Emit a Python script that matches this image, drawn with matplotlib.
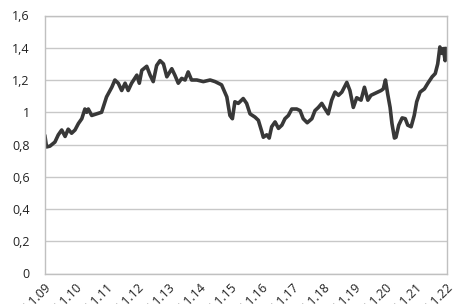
import matplotlib
matplotlib.use("Agg")
import matplotlib.pyplot as plt
from matplotlib.ticker import FuncFormatter

# decimal years and values
years = [2009.00, 2009.05, 2009.16, 2009.32, 2009.43, 2009.54, 2009.65, 2009.75, 2009.86, 2009.97,
         2010.08, 2010.19, 2010.29, 2010.35, 2010.40, 2010.51, 2010.67, 2010.83, 2010.99,
         2011.16, 2011.26, 2011.37, 2011.48, 2011.59, 2011.69, 2011.80, 2011.97,
         2012.05, 2012.13, 2012.29, 2012.40, 2012.50, 2012.61, 2012.72, 2012.83, 2012.94,
         2013.10, 2013.20, 2013.31, 2013.42, 2013.53, 2013.63, 2013.74, 2013.91,
         2014.12, 2014.34, 2014.50, 2014.71, 2014.88, 2014.98,
         2015.06, 2015.14, 2015.25, 2015.41, 2015.52, 2015.63, 2015.79, 2015.90,
         2016.01, 2016.06, 2016.17, 2016.25, 2016.33, 2016.44, 2016.55, 2016.66, 2016.76, 2016.87, 2016.98,
         2017.14, 2017.25, 2017.35, 2017.48, 2017.63, 2017.73, 2017.84, 2017.95,
         2018.06, 2018.16, 2018.27, 2018.38, 2018.49, 2018.60, 2018.76, 2018.86, 2018.97,
         2019.08, 2019.22, 2019.33, 2019.44, 2019.54, 2019.65, 2019.76, 2019.87, 2019.94,
         2020.01, 2020.08, 2020.16, 2020.22, 2020.30, 2020.35, 2020.44, 2020.55, 2020.65, 2020.73, 2020.84, 2020.94,
         2021.02, 2021.13, 2021.27, 2021.38, 2021.52, 2021.62, 2021.70, 2021.77, 2021.84, 2021.88, 2021.94, 2021.97]
values = [0.85, 0.785, 0.79, 0.815, 0.86, 0.89, 0.85, 0.895, 0.87, 0.89,
          0.93, 0.96, 1.02, 1.00, 1.02, 0.98, 0.99, 1.00, 1.095,
          1.155, 1.20, 1.18, 1.135, 1.18, 1.135, 1.18, 1.23,
          1.18, 1.26, 1.285, 1.23, 1.19, 1.29, 1.32, 1.30, 1.22,
          1.27, 1.23, 1.18, 1.21, 1.20, 1.25, 1.20, 1.20,
          1.19, 1.20, 1.19, 1.17, 1.095, 0.98,
          0.96, 1.065, 1.055, 1.085, 1.055, 0.99, 0.97, 0.95,
          0.88, 0.845, 0.86, 0.84, 0.91, 0.94, 0.90, 0.92, 0.96, 0.98, 1.02,
          1.02, 1.01, 0.96, 0.935, 0.96, 1.01, 1.03, 1.055,
          1.02, 0.99, 1.075, 1.125, 1.105, 1.125, 1.185, 1.135, 1.03,
          1.09, 1.075, 1.155, 1.075, 1.105, 1.115, 1.125, 1.135, 1.145,
          1.20, 1.115, 1.03, 0.93, 0.84, 0.845, 0.92, 0.965, 0.96, 0.92, 0.91, 0.98,
          1.065, 1.125, 1.145, 1.18, 1.22, 1.24, 1.30, 1.405, 1.365, 1.395, 1.32, 1.395]

tick_years = list(range(2009, 2023))
tick_labels = ["1.1.%02d" % (y % 100) for y in tick_years]
y_ticks = [0, 0.2, 0.4, 0.6, 0.8, 1.0, 1.2, 1.4, 1.6]

plt.rcParams['font.family'] = ['Open Sans', 'DejaVu Sans']

fig = plt.figure(figsize=(4.56, 3.04), dpi=100)
ax = fig.add_axes([45/456, 1 - 273.5/304, 402/456, (273.5 - 15.5)/304])

ax.plot(years, values, color='#383838', lw=2.6, solid_joinstyle='round')

ax.set_xlim(2009, 2022)
ax.set_ylim(0, 1.6)
ax.set_yticks(y_ticks)

def fmt(v, pos):
    s = ("%.1f" % v).rstrip('0').rstrip('.')
    return s.replace('.', ',')
ax.yaxis.set_major_formatter(FuncFormatter(fmt))

ax.set_xticks(tick_years)
ax.set_xticklabels(tick_labels, rotation=45, ha='right', va='top', rotation_mode='anchor')

ax.grid(axis='y', color='#c8c8c8', lw=1.0)
ax.set_axisbelow(True)
for s in ax.spines.values():
    s.set_color('#c0c0c0')
    s.set_linewidth(1.0)
ax.tick_params(axis='both', length=0, labelsize=9, colors='#222222')
ax.tick_params(axis='y', pad=11)
ax.tick_params(axis='x', pad=5)

fig.savefig('out.png', dpi=100)
